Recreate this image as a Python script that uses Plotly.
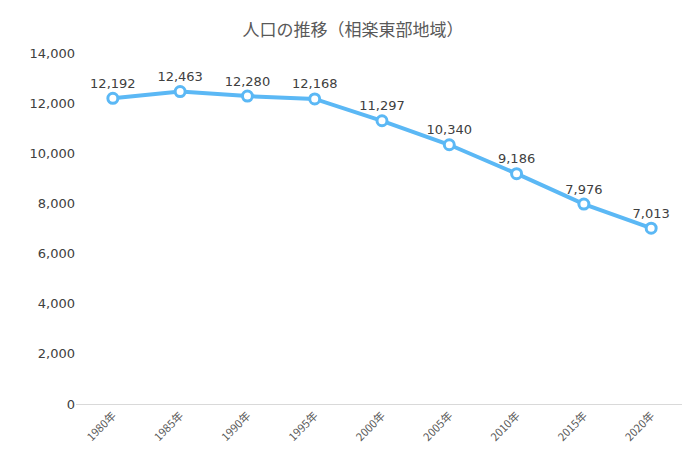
import plotly.graph_objects as go

years = ["1980年","1985年","1990年","1995年","2000年","2005年","2010年","2015年","2020年"]
population = [12192,12463,12280,12168,11297,10340,9186,7976,7013]
yticks = [0,2000,4000,6000,8000,10000,12000,14000]

font = "Noto Sans CJK JP"
fig = go.Figure(go.Scatter(
    x=years, y=population, mode="lines+markers+text",
    line=dict(color="#5BB8F5", width=4),
    marker=dict(size=10, color="white", line=dict(color="#5BB8F5", width=3)),
    text=[f"{v:,}" for v in population], textposition="top center",
    textfont=dict(size=13, color="#404040", family="DejaVu Sans"),
    cliponaxis=False))
fig.update_layout(
    width=690, height=455, margin=dict(l=68, r=10, t=45, b=59),
    plot_bgcolor="white", paper_bgcolor="white", showlegend=False,
    font=dict(family=font, color="#595959"),
    title=dict(text="人口の推移（相楽東部地域）", x=0.5, xanchor="center", y=0.952, yanchor="middle",
               font=dict(size=17, color="#595959")),
    annotations=[dict(text="（人）", xref="paper", yref="paper", x=-0.1, y=1.165,
                      xanchor="left", yanchor="middle", showarrow=False,
                      font=dict(size=15, color="#404040"))])
fig.update_yaxes(range=[0,14000], tickvals=yticks, tickformat=",", showgrid=False,
                 zeroline=False, tickfont=dict(size=13, color="#404040", family="DejaVu Sans"))
fig.update_xaxes(tickangle=-45, showgrid=False, showline=True, linecolor="#D9D9D9",
                 tickfont=dict(size=11, color="#595959"))
fig.write_html("out.html")
